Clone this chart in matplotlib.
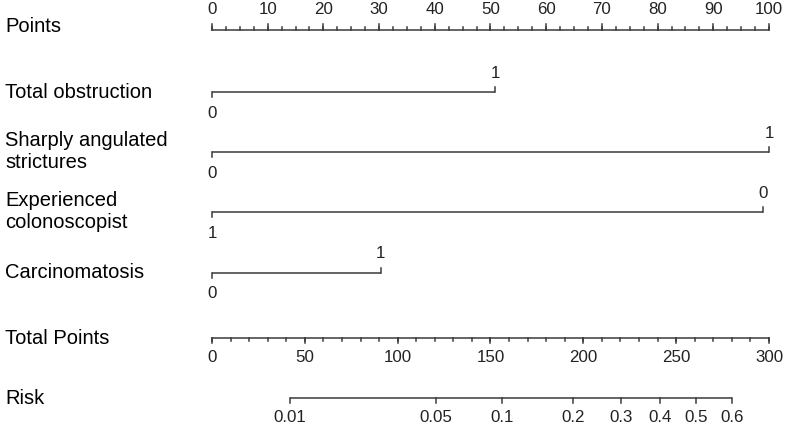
import numpy as np
import matplotlib
matplotlib.use("Agg")
import matplotlib.pyplot as plt

plt.rcParams['font.family'] = ['Liberation Sans', 'DejaVu Sans']

# points scale
points_major = np.arange(0, 101, 10)
points_minor = np.arange(0, 100.1, 2.5)

# predictors: label, level names (left, right), points (left, right)
var_names = ["Total obstruction", "Sharply angulated\nstrictures",
             "Experienced\ncolonoscopist", "Carcinomatosis"]
var_levels = [["0", "1"], ["0", "1"], ["1", "0"], ["0", "1"]]
var_points = [[0, 50.8], [0, 100], [0, 99], [0, 30.3]]

# total points scale
total_major = np.arange(0, 301, 50)
total_minor = np.arange(0, 301, 10)
total_max = 300

# risk scale (logistic model: total points = intercept + slope * logit(p))
risk_ticks = [0.01, 0.05, 0.1, 0.2, 0.3, 0.4, 0.5, 0.6]
risk_labels = ["0.01", "0.05", "0.1", "0.2", "0.3", "0.4", "0.5", "0.6"]
risk_intercept = 260.6
risk_slope = 47.55

W, H = 785, 430
x0_px, px_per_pt = 212, 5.57
row_y = {"points": 30, "vars": [92, 152, 212, 273], "total": 338, "risk": 398}

line_col = "#3a3a3a"
lab_fs = 14.5
tick_fs = 12.2
lw = 1.1

fig = plt.figure(figsize=(W / 100, H / 100), dpi=100)
ax = fig.add_axes([0, 0, 1, 1])
ax.set_xlim(-x0_px / px_per_pt, (W - x0_px) / px_per_pt)
ax.set_ylim(H, 0)
ax.axis("off")
lab_tr = ax.get_yaxis_transform()


def row_label(y, text):
    ax.text(5 / W, y, text, transform=lab_tr, ha="left", va="center",
            fontsize=lab_fs, color="black", linespacing=1.2)


def scale(y, pos_major, labels, pos_minor, up, lab_off, tick_major=6, tick_minor=3.5):
    d = -1 if up else 1
    ax.plot([min(pos_major + pos_minor), max(pos_major + pos_minor)], [y, y],
            color=line_col, lw=lw, solid_capstyle="butt")
    for p in pos_minor:
        ax.plot([p, p], [y, y + d * tick_minor], color=line_col, lw=lw)
    for p, t in zip(pos_major, labels):
        ax.plot([p, p], [y, y + d * tick_major], color=line_col, lw=lw)
        ax.text(p, y + lab_off, t, ha="center", va="center",
                fontsize=tick_fs, color="#222222")


# Points
row_label(27, "Points")
scale(row_y["points"], list(points_major), [str(v) for v in points_major],
      list(points_minor), up=True, lab_off=-20)

# predictors
for name, levs, pts, y in zip(var_names, var_levels, var_points, row_y["vars"]):
    row_label(y, name)
    ax.plot(pts, [y, y], color=line_col, lw=lw, solid_capstyle="butt")
    ax.plot([pts[0], pts[0]], [y, y + 5], color=line_col, lw=lw)
    ax.plot([pts[1], pts[1]], [y, y - 5], color=line_col, lw=lw)
    ax.text(pts[0], y + 21, levs[0], ha="center", va="center",
            fontsize=tick_fs, color="#222222")
    ax.text(pts[1], y - 19, levs[1], ha="center", va="center",
            fontsize=tick_fs, color="#222222")

# Total points
to_pts = 100 / total_max
row_label(row_y["total"], "Total Points")
scale(row_y["total"], list(total_major * to_pts), [str(v) for v in total_major],
      list(total_minor * to_pts), up=False, lab_off=20, tick_major=5, tick_minor=3)

# Risk
logit = lambda p: np.log(p / (1 - p))
risk_pos = [(risk_intercept + risk_slope * logit(p)) * to_pts for p in risk_ticks]
row_label(row_y["risk"], "Risk")
scale(row_y["risk"], risk_pos, risk_labels, [], up=False, lab_off=20,
      tick_major=5)

fig.savefig("out.png", dpi=100)
